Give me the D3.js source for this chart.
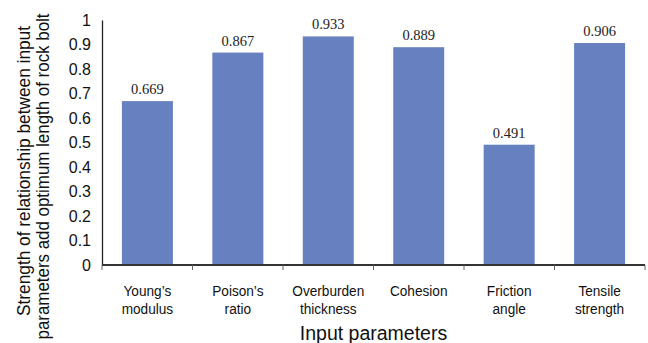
<!DOCTYPE html>
<html><head><meta charset="utf-8">
<script src="https://cdn.jsdelivr.net/npm/d3@7"></script>
<style>body{margin:0;background:#fff}</style>
</head><body>
<svg id="c" width="648" height="343"></svg>
<script>
const categories = [["Young’s","modulus"],["Poison’s","ratio"],["Overburden","thickness"],["Cohesion"],["Friction","angle"],["Tensile","strength"]];
const values = [0.669, 0.867, 0.933, 0.889, 0.491, 0.906];
const yTicks = [0,0.1,0.2,0.3,0.4,0.5,0.6,0.7,0.8,0.9,1];
const yTickLabels = ["0","0.1","0.2","0.3","0.4","0.5","0.6","0.7","0.8","0.9","1"];
const yTitleLines = ["Strength of relationship between input","parameters add optimum length of rock bolt"];
const xTitle = "Input parameters";

const svg = d3.select("#c");
const pLeft = 102, pRight = 645, pTop = 20, pBottom = 265;
const x = d3.scaleBand().domain(d3.range(values.length)).range([pLeft, pRight]).paddingInner(0.436).paddingOuter(0.22);
const y = d3.scaleLinear().domain([0,1]).range([pBottom, pTop]);

svg.selectAll("rect.bar").data(values).enter().append("rect")
  .attr("x",(d,i)=>x(i)).attr("y",d=>y(d)).attr("width",x.bandwidth()).attr("height",d=>pBottom-y(d))
  .attr("fill","#6781c0");

svg.selectAll("text.val").data(values).enter().append("text")
  .attr("x",(d,i)=>x(i)+x.bandwidth()/2).attr("y",d=>y(d)-7)
  .attr("text-anchor","middle").attr("font-family","Liberation Serif, Times New Roman, serif")
  .attr("font-size",14.5).attr("fill","#222").text(d=>d.toFixed(3));

// y axis
const yAxis = svg.append("g").attr("transform",`translate(${pLeft},0)`)
  .call(d3.axisLeft(y).tickValues(yTicks).tickFormat((d,i)=>yTickLabels[i]).tickSize(0).tickPadding(11));
yAxis.select(".domain").attr("stroke","#222").attr("stroke-width",1.3);
yAxis.selectAll("text").attr("font-family","Liberation Sans, Arial, sans-serif").attr("font-size",16).attr("fill","#111");

// x axis
const bounds = d3.range(values.length+1).map(i=>pLeft + i*(pRight-pLeft)/values.length);
svg.append("line").attr("x1",pLeft).attr("x2",pRight).attr("y1",pBottom).attr("y2",pBottom).attr("stroke","#333").attr("stroke-width",2);
svg.selectAll("line.tk").data(bounds).enter().append("line")
  .attr("x1",d=>d).attr("x2",d=>d).attr("y1",pBottom).attr("y2",pBottom+5).attr("stroke","#666").attr("stroke-width",1);

const cat = svg.selectAll("text.cat").data(categories).enter().append("text")
  .attr("text-anchor","middle").attr("font-family","Liberation Sans, Arial, sans-serif").attr("font-size",15.5).attr("fill","#111")
  .attr("transform",(d,i)=>`translate(${x(i)+x.bandwidth()/2},0) scale(0.88,1)`);
cat.each(function(d){
  const t = d3.select(this);
  d.forEach((line,j)=>{
    t.append("tspan").attr("x",0).attr("y",(d.length===1?296:296+j*18.5)).text(line);
  });
});

svg.append("text").attr("x",(pLeft+pRight)/2).attr("y",340).attr("text-anchor","middle")
  .attr("font-family","Liberation Sans, Arial, sans-serif").attr("font-size",19.5).attr("fill","#111").text(xTitle);

const titleCenters = [171, 176.5], titleBase = [30, 49], titleLen = [290, 326];
yTitleLines.forEach((line,j)=>{
  svg.append("text").attr("transform",`translate(0,${titleCenters[j]}) rotate(-90)`)
    .attr("x",0).attr("y",titleBase[j])
    .attr("text-anchor","middle").attr("font-family","Liberation Sans, Arial, sans-serif").attr("font-size",17.5).attr("fill","#111")
    .attr("textLength",titleLen[j]).attr("lengthAdjust","spacingAndGlyphs")
    .text(line);
});
</script>
</body></html>
